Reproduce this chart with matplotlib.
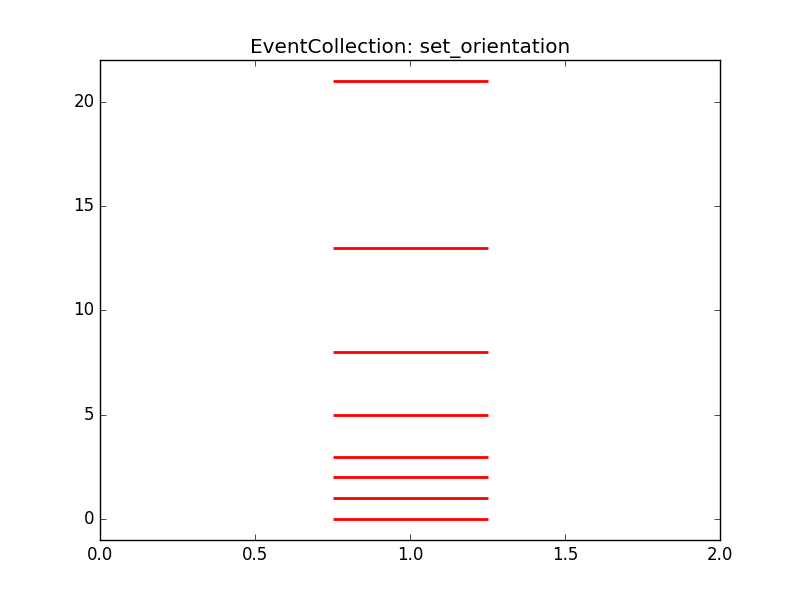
import matplotlib
matplotlib.use("Agg")
import matplotlib.pyplot as plt
from matplotlib.collections import EventCollection

plt.style.use("classic")

positions = [0, 1, 2, 3, 5, 8, 13, 21]
line_offset = 1
line_length = 0.5
title = "EventCollection: set_orientation"

fig = plt.figure(figsize=(8, 6), dpi=100, facecolor="white")
ax = fig.add_subplot(111)
coll = EventCollection(positions, orientation="horizontal", lineoffset=line_offset,
                       linelength=line_length, linewidth=2, color="red")
coll.set_orientation("vertical")
ax.add_collection(coll)
ax.set_xlim(0, 2)
ax.set_ylim(-1, 22)
ax.set_title(title)
fig.savefig("out.png", dpi=100, facecolor="white")
